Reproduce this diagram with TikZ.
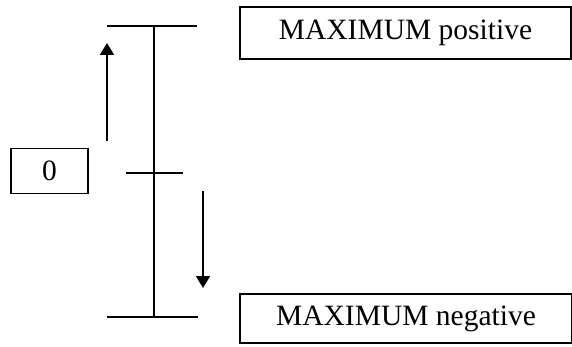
\documentclass[tikz,border=0pt]{standalone}
\usepackage{fontspec}
\setmainfont{Liberation Serif}
\usetikzlibrary{arrows.meta}
\begin{document}
\begin{tikzpicture}[x=1pt,y=1pt,
  label box/.style={draw, line width=1.4pt, inner sep=0pt, font=\fontsize{29.5}{32}\selectfont},
  scale line/.style={line width=1.8pt},
  move arrow/.style={line width=1.8pt, -{Triangle[length=12pt,width=14pt]}}]
  \useasboundingbox (0,0) rectangle (572,346);
  % value boxes
  \node[label box, minimum width=77pt, minimum height=45pt] (zero) at (49.5,175) {0};
  \node[label box, minimum width=331pt, minimum height=52pt] (maxpos) at (405.5,313) {MAXIMUM positive};
  \node[label box, minimum width=332pt, minimum height=49pt] (maxneg) at (406,27.5) {MAXIMUM negative};
  % scale with end stops and middle tick
  \coordinate (topL) at (107,320);
  \coordinate (topR) at (197,320);
  \coordinate (topM) at (154,320);
  \coordinate (botL) at (107,29);
  \coordinate (botR) at (198,29);
  \coordinate (botM) at (154,29);
  \coordinate (midL) at (126,173);
  \coordinate (midR) at (183,173);
  \draw[scale line] (topL) -- (topR);
  \draw[scale line] (botL) -- (botR);
  \draw[scale line] (topM) -- (botM);
  \draw[scale line] (midL) -- (midR);
  % direction arrows
  \coordinate (upS) at (107,205);
  \coordinate (upE) at (107,303);
  \coordinate (dnS) at (203,155);
  \coordinate (dnE) at (203,58);
  \draw[move arrow] (upS) -- (upE);
  \draw[move arrow] (dnS) -- (dnE);
\end{tikzpicture}
\end{document}
